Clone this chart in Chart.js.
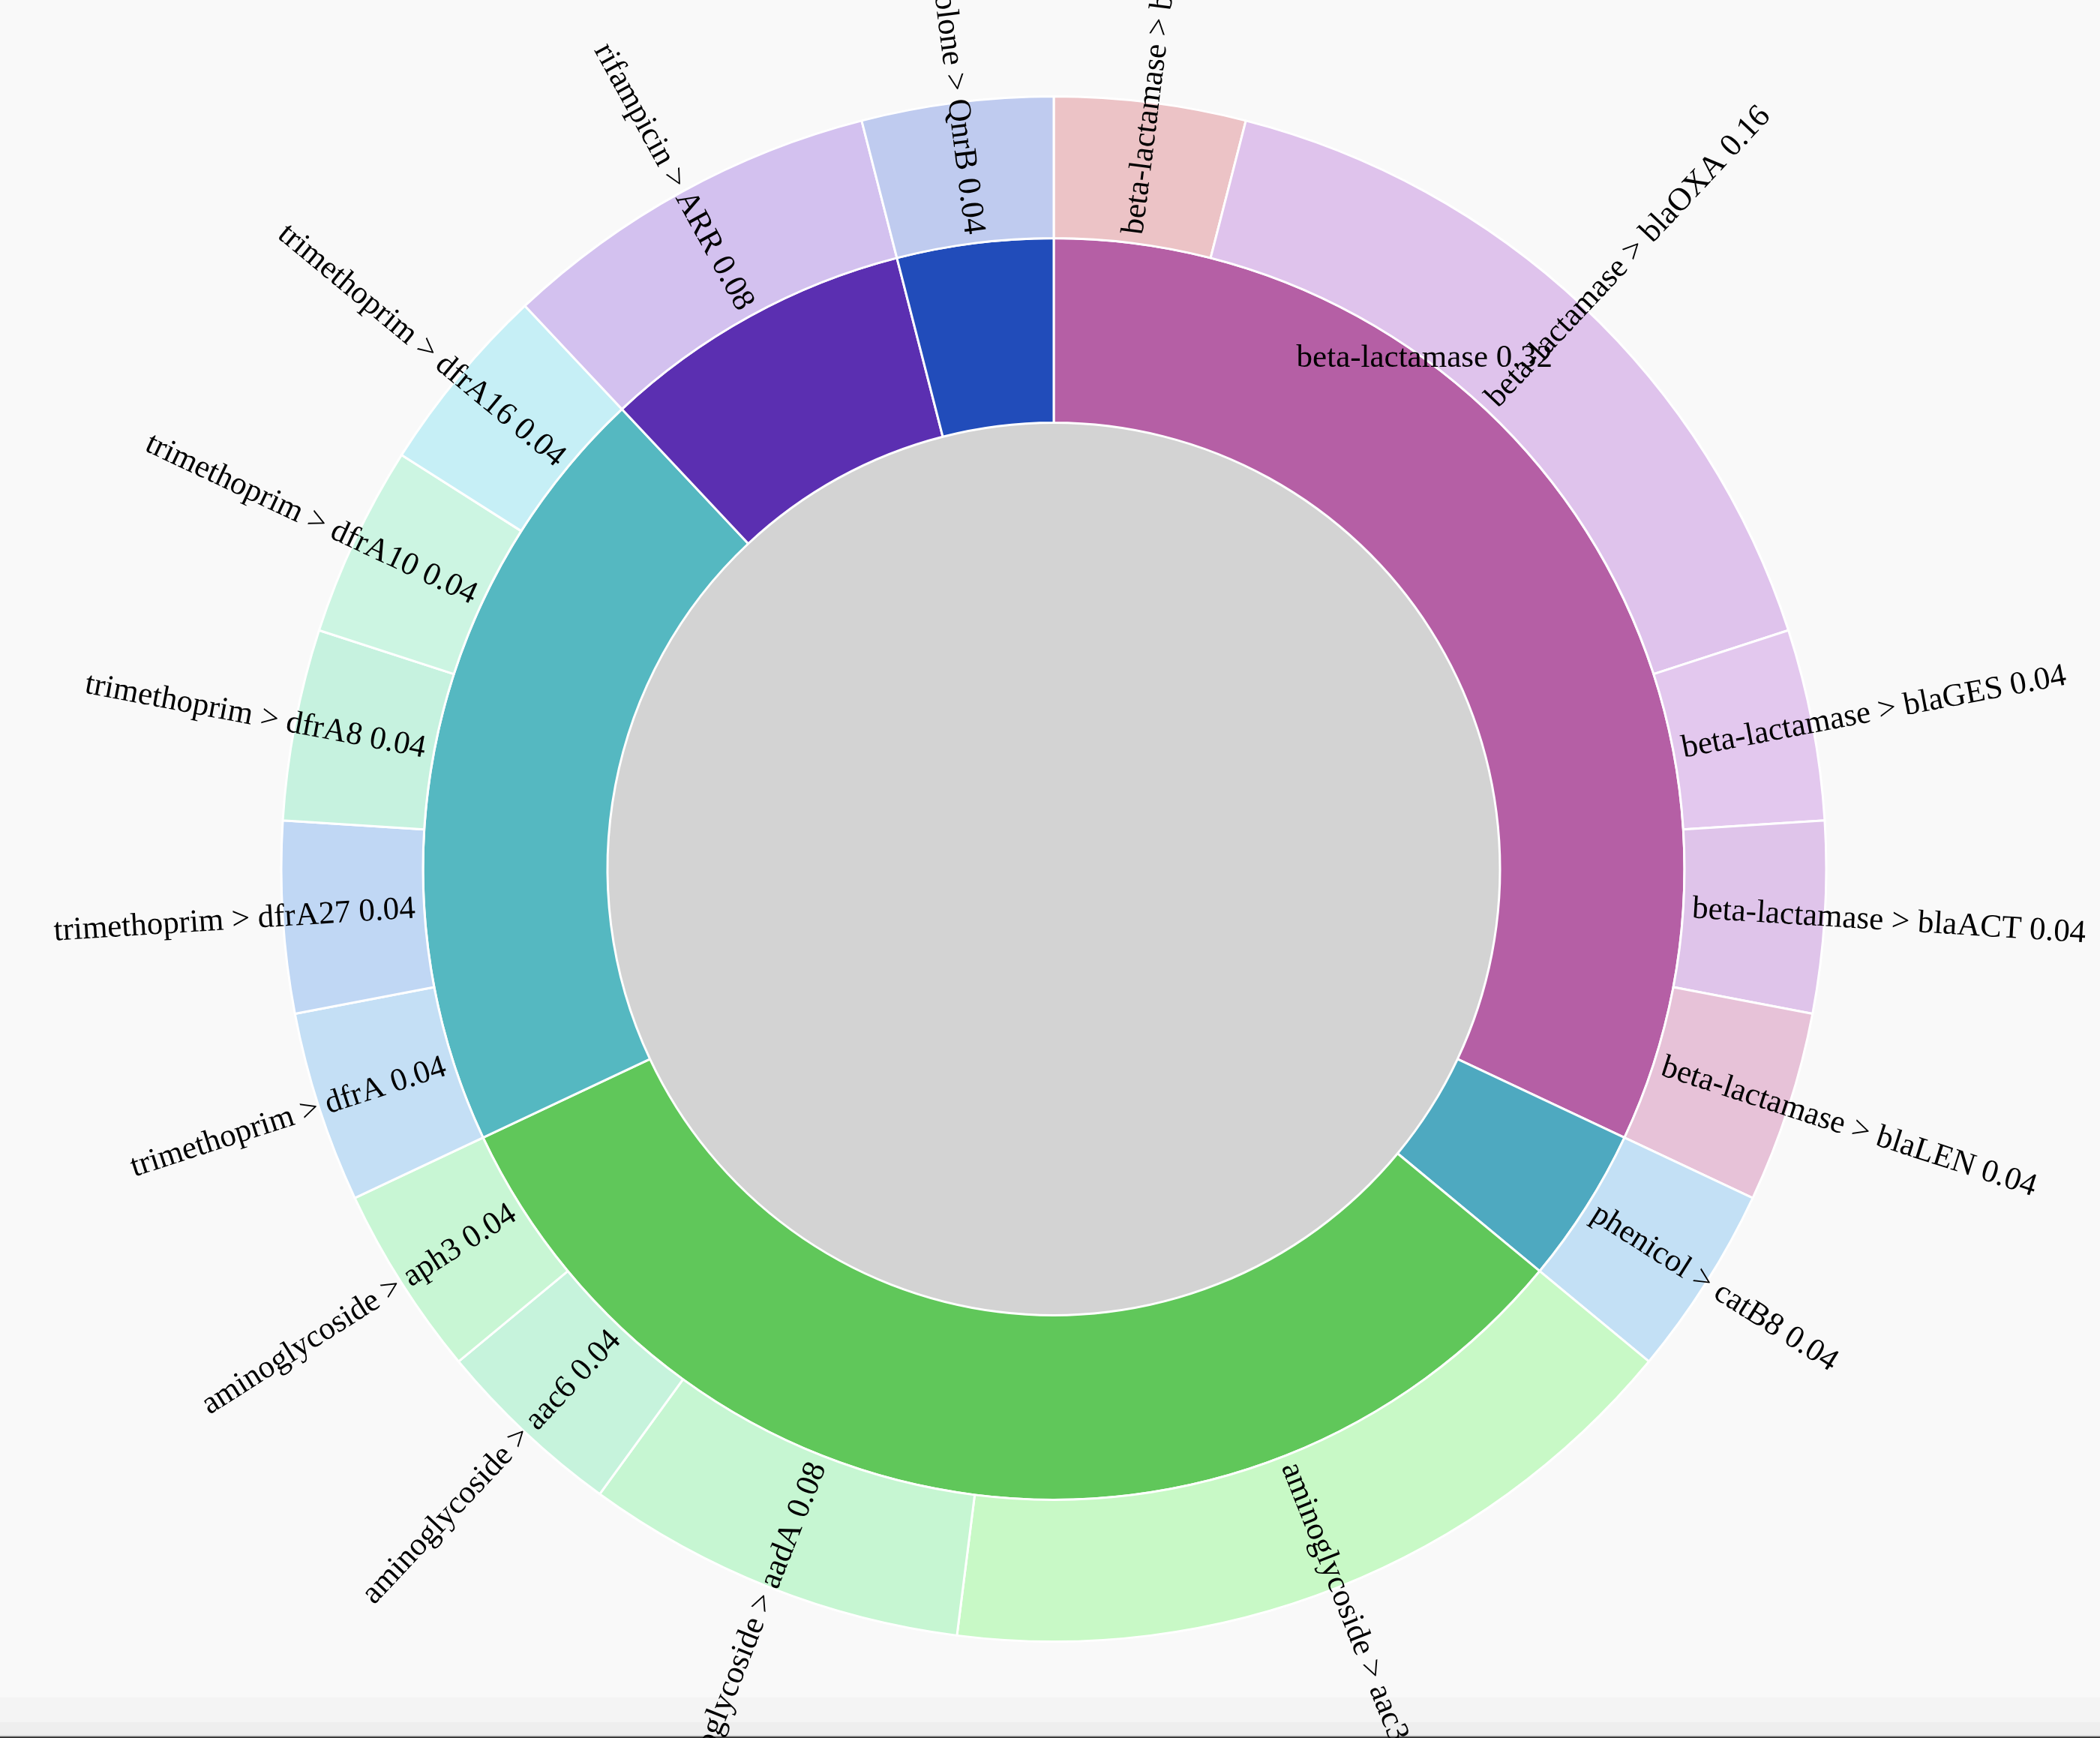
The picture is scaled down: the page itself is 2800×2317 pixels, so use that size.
<!DOCTYPE html>
<html>
<head>
<meta charset="utf-8">
<script src="https://cdn.jsdelivr.net/npm/chart.js@4/dist/chart.umd.min.js"></script>
<style>
  html, body { margin: 0; padding: 0; }
  body {
    width: 2800px; height: 2317px; overflow: hidden;
    background: linear-gradient(to bottom,
      #f9f9f9 0, #f9f9f9 2263px,
      #f4f4f4 2263px, #f4f4f4 2296px,
      #eeeeee 2296px, #eeeeee 2313px,
      #d6d6d6 2313px, #d6d6d6 2315px,
      #3a3a3a 2315px, #3a3a3a 2317px);
  }
  canvas { position: absolute; left: 0; top: 0; }
</style>
</head>
<body>
<canvas id="c" width="2800" height="2317"></canvas>
<script>
// inner ring: resistance classes, clockwise from 12 o'clock
const categories = ['beta-lactamase', 'phenicol', 'aminoglycoside', 'trimethoprim', 'rifampicin', 'fluoroquinolone'];
const categoryValues = [0.32, 0.04, 0.32, 0.20, 0.08, 0.04];
const categoryColors = ['#b55fa5', '#4ea9c0', '#60c75a', '#55b8c1', '#5b2fb1', '#214cba'];
const labelledCategories = ['beta-lactamase'];

// outer ring: genes, same order
const geneParents = [
  'beta-lactamase', 'beta-lactamase', 'beta-lactamase', 'beta-lactamase', 'beta-lactamase',
  'phenicol',
  'aminoglycoside', 'aminoglycoside', 'aminoglycoside', 'aminoglycoside',
  'trimethoprim', 'trimethoprim', 'trimethoprim', 'trimethoprim', 'trimethoprim',
  'rifampicin',
  'fluoroquinolone'
];
const genes = [
  'blaTEM', 'blaOXA', 'blaGES', 'blaACT', 'blaLEN',
  'catB8',
  'aac3', 'aadA', 'aac6', 'aph3',
  'dfrA', 'dfrA27', 'dfrA8', 'dfrA10', 'dfrA16',
  'ARR',
  'QnrB'
];
const geneValues = [0.04, 0.16, 0.04, 0.04, 0.04, 0.04, 0.16, 0.08, 0.04, 0.04, 0.04, 0.04, 0.04, 0.04, 0.04, 0.08, 0.04];
const geneColors = [
  '#ecc3c6', '#dfc3ec', '#e3c8ee', '#dfc4ea', '#e7c2d8',
  '#c3e0f5',
  '#c8f9c6', '#c6f6d2', '#c6f3dc', '#c8f6d4',
  '#c4dff5', '#c0d7f4', '#c6f2df', '#ccf5e2', '#c6eff6',
  '#d3c1ef',
  '#bfcbef'
];

const FONT = '43px "Liberation Serif", "Times New Roman", serif';

const sunburstLabels = {
  id: 'sunburstLabels',
  afterDatasetsDraw(chart) {
    const ctx = chart.ctx;
    ctx.save();
    ctx.font = FONT;
    ctx.fillStyle = '#000';
    ctx.textBaseline = 'middle';

    // gene labels, radial
    chart.getDatasetMeta(0).data.forEach((arc, i) => {
      const p = arc.getProps(['x', 'y', 'startAngle', 'endAngle', 'innerRadius']);
      const a = (p.startAngle + p.endAngle) / 2;
      const r = p.innerRadius + 12;
      const text = geneParents[i] + ' > ' + genes[i] + ' ' + geneValues[i];
      ctx.save();
      ctx.translate(p.x + Math.cos(a) * r, p.y + Math.sin(a) * r);
      if (Math.cos(a) >= 0) {
        ctx.rotate(a);
        ctx.textAlign = 'left';
      } else {
        ctx.rotate(a + Math.PI);
        ctx.textAlign = 'right';
      }
      ctx.fillText(text, 0, 0);
      ctx.restore();
    });

    // category labels, horizontal
    chart.getDatasetMeta(1).data.forEach((arc, i) => {
      if (!labelledCategories.includes(categories[i])) return;
      const p = arc.getProps(['x', 'y', 'startAngle', 'endAngle', 'outerRadius']);
      const a = p.startAngle + (p.endAngle - p.startAngle) * 0.3125;
      ctx.textAlign = 'center';
      ctx.fillText(categories[i] + ' ' + categoryValues[i],
        p.x + Math.cos(a) * p.outerRadius, p.y + Math.sin(a) * p.outerRadius);
    });
    ctx.restore();
  }
};

new Chart(document.getElementById('c'), {
  type: 'doughnut',
  data: {
    labels: genes,
    datasets: [
      { data: geneValues, backgroundColor: geneColors, borderColor: '#ffffff', borderWidth: 3, weight: 189 },
      { data: categoryValues, backgroundColor: categoryColors, borderColor: '#ffffff', borderWidth: 3, weight: 246 },
      { data: [1], backgroundColor: ['#d3d3d3'], borderWidth: 0, weight: 595 }
    ]
  },
  options: {
    responsive: false,
    animation: false,
    devicePixelRatio: 1,
    cutout: 0,
    radius: 1030,
    layout: { padding: { left: 10 } },
    plugins: {
      legend: { display: false },
      tooltip: { enabled: false }
    }
  },
  plugins: [sunburstLabels]
});
</script>
</body>
</html>
